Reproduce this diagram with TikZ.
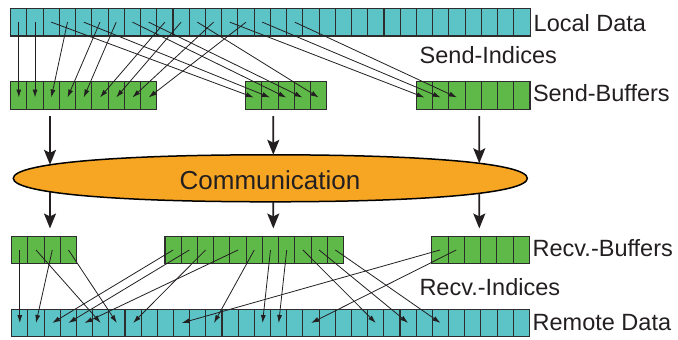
\documentclass[tikz,border=0pt]{standalone}
\usepackage{fontspec}
\setmainfont{Liberation Sans}
\usetikzlibrary{arrows.meta,intersections}
\definecolor{cyanc}{RGB}{92,196,199}
\definecolor{greenc}{RGB}{94,185,72}
\definecolor{orangec}{RGB}{247,166,36}
\definecolor{txt}{RGB}{35,31,32}
\definecolor{bord}{RGB}{45,45,45}
\begin{document}
\begin{tikzpicture}[x=1pt,y=-1pt,
  cellbase/.style={draw=bord, line width=1.1pt, inner sep=0pt, outer sep=0pt, anchor=north west, minimum width=16.23pt},
  cellL/.style={cellbase, fill=cyanc, minimum height=27.7pt},
  cellS/.style={cellbase, fill=greenc, minimum height=27.6pt},
  cellR/.style={cellbase, fill=greenc, minimum height=26.6pt},
  cellM/.style={cellbase, fill=cyanc, minimum height=27.4pt},
  smallarr/.style={draw=txt, line width=0.8pt, -{Latex[length=8pt,width=5pt]}},
  bigarr/.style={draw=txt, line width=1.8pt, -{Stealth[length=15pt,width=12pt,inset=3pt]}},
  lbl/.style={font=\fontsize{23.5}{28}\selectfont, text=txt, anchor=base west, inner sep=0pt}
]
\useasboundingbox (0,0) rectangle (678,340);

% Local data
\foreach \i in {0,...,31} \node[cellL] (L\i) at ({10.7+16.23*\i},8.3) {};
% Send buffers
\foreach \i in {0,...,8} \node[cellS] (SA\i) at ({10.7+16.23*\i},81.7) {};
\foreach \i in {0,...,4} \node[cellS] (SB\i) at ({245.7+16.23*\i},81.7) {};
\foreach \i in {0,...,6} \node[cellS] (SC\i) at ({416.4+16.23*\i},81.7) {};
% Recv buffers
\foreach \i in {0,...,3} \node[cellR] (RA\i) at ({11.7+16.23*\i},236.7) {};
\foreach \i in {0,...,10} \node[cellR] (RB\i) at ({165+16.23*\i},236.7) {};
\foreach \i in {0,...,5} \node[cellR] (RC\i) at ({431.9+16.23*\i},236.7) {};
% Remote data
\foreach \i in {0,...,31} \node[cellM] (R\i) at ({11.7+16.18*\i},309.3) {};

% Send index arrows
\foreach \s/\t in {0/0,1/1,3/2,5/3,6/4,9/5,10/6,12/7,14/8}
  \draw[smallarr] (L\s.center) -- ([yshift=-2pt]SA\t.center);
\foreach \s/\t in {2/0,4/1,7/2,8/3,11/4}
  \draw[smallarr] (L\s.center) -- ([yshift=-2pt]SB\t.center);
\foreach \s/\t in {13/0,15/1,17/2}
  \draw[smallarr] (L\s.center) -- ([yshift=-2pt]SC\t.center);

% Recv index arrows
\foreach \s/\t in {0/0,1/5,2/1,3/6}
  \draw[smallarr] (RA\s.center) -- (R\t.center);
\foreach \s/\t in {0/2,1/3,2/7,4/4,5/12,6/15,7/16,8/22,9/24,10/26}
  \draw[smallarr] (RB\s.center) -- (R\t.center);
\foreach \s/\t in {0/10,1/18}
  \draw[smallarr] (RC\s.center) -- (R\t.center);

% Communication lens
\path[name path=ell, draw=black, line width=1.5pt, fill=orangec]
  (13.3,178.3) .. controls (13.3,163.7) and (111,154.8) .. (270.3,154.8)
  .. controls (429.6,154.8) and (527.3,163.7) .. (527.3,178.3)
  .. controls (527.3,192.9) and (429.6,201.8) .. (270.3,201.8)
  .. controls (111,201.8) and (13.3,192.9) .. cycle;
\node[font=\fontsize{26}{30}\selectfont, text=txt, anchor=base, inner sep=0pt] (comm) at (270,189) {Communication};

% Vertical arrows through the communication
\foreach \n/\x in {1/50,2/273.3,3/479.3} {
  \coordinate (st\n) at (\x,116);
  \coordinate (rt\n) at (\x,228.5);
  \path[name path=v\n] (\x,110) -- (\x,240);
  \path[name intersections={of=ell and v\n, sort by=v\n, by={et\n,eb\n}}];
  \draw[bigarr] (st\n) -- (et\n);
  \draw[bigarr] (eb\n) -- (rt\n);
}

% Labels
\node[lbl] (ld) at (533.5,31.5) {Local Data};
\node[lbl] (si) at (419.5,63.3) {Send-Indices};
\node[lbl] (sb) at (532.8,101.7) {Send-Buffers};
\node[lbl] (rb) at (532.5,256.7) {Recv.-Buffers};
\node[lbl] (ri) at (419.3,295) {Recv.-Indices};
\node[lbl] (rd) at (532.5,330) {Remote Data};
\end{tikzpicture}
\end{document}
